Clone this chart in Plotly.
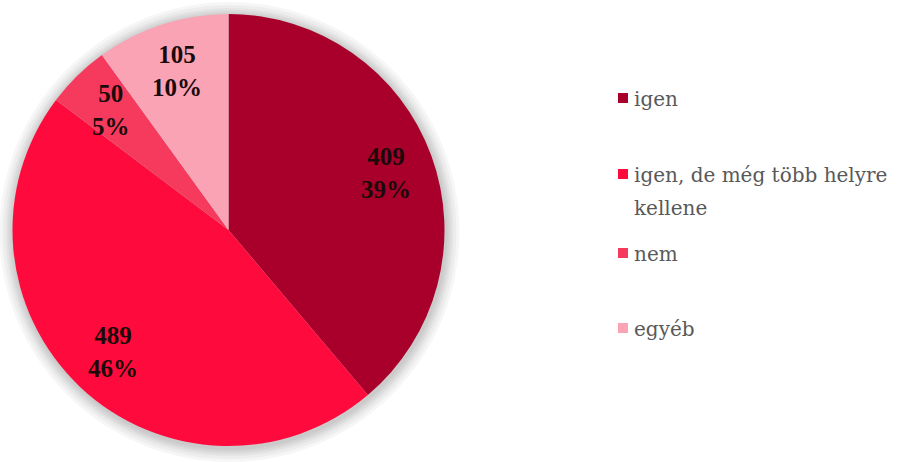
import math
import textwrap
import plotly.graph_objects as go

# Survey answers and counts
labels = ["igen", "igen, de még több helyre kellene", "nem", "egyéb"]
values = [409, 489, 50, 105]
colors = ["#A8002A", "#FF0A3C", "#F53A5E", "#F9A3B5"]

W, H = 908, 462
CX, CY, R = 228.5, 230.0, 216.0          # pie centre and radius in px
LABEL_R = 0.775                           # data labels sit at this fraction of the radius
SERIF = "Liberation Serif, Times New Roman, serif"
LEGEND_FONT = "DejaVu Serif"


def px_x(x):
    return x / W


def px_y(y):
    return 1 - y / H


fig = go.Figure()

fig.add_trace(go.Pie(
    labels=labels,
    values=values,
    sort=False,
    direction="clockwise",
    rotation=0,
    marker=dict(colors=colors, line=dict(width=0)),
    textinfo="none",
    hoverinfo="label+value+percent",
    showlegend=False,
    domain=dict(x=[px_x(CX - R), px_x(CX + R)], y=[px_y(CY + R), px_y(CY - R)]),
))

# soft halo around the pie
shapes = []
for extra in [14, 11, 8, 6, 4, 2]:
    rr = R + extra
    shapes.append(dict(
        type="circle", xref="paper", yref="paper", layer="below",
        x0=px_x(CX - rr + 1), x1=px_x(CX + rr + 1),
        y0=px_y(CY + rr + 2), y1=px_y(CY - rr + 2),
        fillcolor="rgba(0,0,0,0.035)", line=dict(width=0),
    ))

annotations = []

# value / percent labels placed along each slice's bisector
total = sum(values)
start = 0.0
for v in values:
    frac = v / total
    mid = (start + frac / 2) * 2 * math.pi
    start += frac
    lx = CX + LABEL_R * R * math.sin(mid)
    ly = CY - LABEL_R * R * math.cos(mid)
    annotations.append(dict(
        x=px_x(lx), y=px_y(ly), xref="paper", yref="paper",
        xanchor="center", yanchor="middle", showarrow=False,
        text=f"<b>{v}<br>{round(frac * 100)}%</b>",
        font=dict(family=SERIF, size=25, color="#1A0A0A"),
        align="center",
    ))

# legend on the right
legend_y = [98, 174, 253, 328]
LEG_X = 618
LINE_GAP = 33
for lab, col, yc in zip(labels, colors, legend_y):
    shapes.append(dict(
        type="rect", xref="paper", yref="paper",
        x0=px_x(LEG_X), x1=px_x(LEG_X + 10),
        y0=px_y(yc + 5), y1=px_y(yc - 5),
        fillcolor=col, line=dict(width=0),
    ))
    for i, line in enumerate(textwrap.wrap(lab, 25)):
        annotations.append(dict(
            x=px_x(LEG_X + 14), y=px_y(yc + 1 + i * LINE_GAP), xref="paper", yref="paper",
            xanchor="left", yanchor="middle", showarrow=False,
            text=line,
            font=dict(family=LEGEND_FONT, size=20, color="#595959"),
        ))

fig.update_layout(
    width=W, height=H,
    margin=dict(l=0, r=0, t=0, b=0),
    paper_bgcolor="white",
    plot_bgcolor="white",
    shapes=shapes,
    annotations=annotations,
)

fig.write_html("out.html")
